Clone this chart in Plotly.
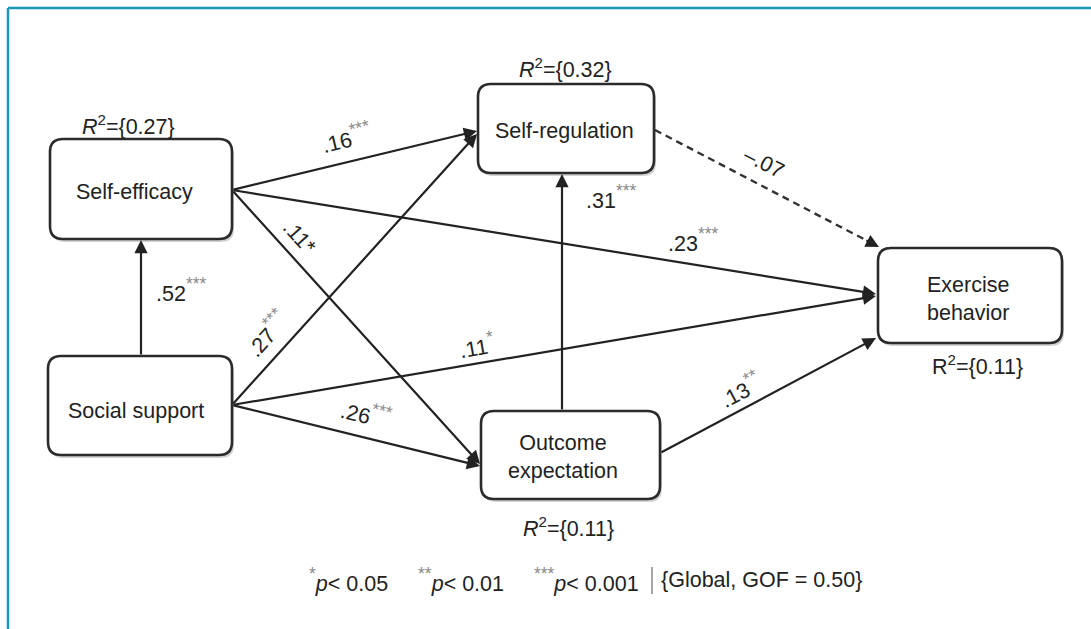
import math
import plotly.graph_objects as go

# ---------------- data ----------------
node_names = ["Self-efficacy", "Self-regulation", "Social support",
              "Outcome<br>expectation", "Exercise<br>behavior"]
node_r2 = [0.27, 0.32, None, 0.11, 0.11]
node_r2_italic = [True, True, False, True, False]

path_from = ["Social support", "Self-efficacy", "Social support", "Self-efficacy",
             "Social support", "Self-efficacy", "Social support", "Outcome",
             "Outcome", "Self-regulation"]
path_to = ["Self-efficacy", "Self-regulation", "Self-regulation", "Outcome",
           "Outcome", "Exercise", "Exercise", "Self-regulation",
           "Exercise", "Exercise"]
path_coef = [0.52, 0.16, 0.27, 0.11, 0.26, 0.23, 0.11, 0.31, 0.13, -0.07]
path_stars = ["***", "***", "***", "*", "***", "***", "*", "***", "**", ""]

legend_levels = ["0.05", "0.01", "0.001"]
legend_stars = ["*", "**", "***"]
global_gof = 0.50

# ---------------- layout geometry (pixels) ----------------
W, H = 1091, 629
boxes = [  # x0, y0, x1, y1
    (50, 139, 232, 239),
    (478, 84, 654, 173),
    (48, 356, 232, 455),
    (481, 411, 660, 499),
    (878, 248, 1062, 343),
]
label_pos = [(134, 192), (564, 131), (136, 411), (563, 457), (968, 299)]
r2_pos = [(128, 125), (565, 68), None, (568, 527), (977, 365)]

# arrows: tail, head
arrow_geom = [
    ((141, 356), (141, 240)),
    ((232, 190), (477, 131)),
    ((232, 405), (477, 134)),
    ((232, 190), (480, 464)),
    ((232, 405), (480, 466)),
    ((232, 190), (876, 294)),
    ((232, 405), (876, 296)),
    ((562, 411), (562, 174)),
    ((660, 453), (876, 338)),
    ((655, 130), (879, 247)),
]
coef_pos = [(346, 137), (266, 333), (299, 237), (366, 413),
            (693, 240), (476, 345), (611, 197), (740, 389), (764, 163)]
coef_pos.insert(0, (181, 290))
coef_angle = [0, -14, -48, 48, 13.5, 0, -10, 0, -28, 27]
low_star = [False, False, False, True, False, False, False, False, False, False]

FONT = "Liberation Sans, Arial, sans-serif"
INK = "#222222"
STAR = "#8a8a8a"
FS = 21.5

fig = go.Figure()
shapes = []
annotations = []


def rrect(x0, y0, x1, y1, r):
    return (f"M {x0+r},{y0} L {x1-r},{y0} Q {x1},{y0} {x1},{y0+r} "
            f"L {x1},{y1-r} Q {x1},{y1} {x1-r},{y1} L {x0+r},{y1} "
            f"Q {x0},{y1} {x0},{y1-r} L {x0},{y0+r} Q {x0},{y0} {x0+r},{y0} Z")


def stars(st):
    return f"<span style='font-size:25px;color:{STAR}'><sup>{st}</sup></span>"


# frame
shapes.append(dict(type="line", xref="x", yref="y", x0=8, y0=8, x1=W, y1=8,
                   line=dict(color="#1a96b4", width=2.5)))
shapes.append(dict(type="line", xref="x", yref="y", x0=8, y0=8, x1=8, y1=H,
                   line=dict(color="#1a96b4", width=2.5)))

# arrows
for i, ((tx, ty), (hx, hy)) in enumerate(arrow_geom):
    if path_coef[i] < 0:
        dx, dy = hx - tx, hy - ty
        L = math.hypot(dx, dy)
        bx, by = hx - 16 * dx / L, hy - 16 * dy / L
        shapes.append(dict(type="line", xref="x", yref="y", x0=tx, y0=ty, x1=bx, y1=by,
                           line=dict(color="#333333", width=2.4, dash="7px,5px")))
        annotations.append(dict(x=hx, y=hy, ax=bx, ay=by, xref="x", yref="y",
                                axref="x", ayref="y", text="", showarrow=True,
                                arrowhead=2, arrowsize=1.2, arrowwidth=2.2,
                                arrowcolor="#222", standoff=0, startstandoff=0))
    else:
        annotations.append(dict(x=hx, y=hy, ax=tx, ay=ty, xref="x", yref="y",
                                axref="x", ayref="y", text="", showarrow=True,
                                arrowhead=2, arrowsize=1.2, arrowwidth=2.2,
                                arrowcolor="#222", standoff=0, startstandoff=0))

# boxes
for (x0, y0, x1, y1) in boxes:
    shapes.append(dict(type="path", xref="x", yref="y",
                       path=rrect(x0 + 2, y0 + 3, x1 + 2, y1 + 3, 13),
                       fillcolor="rgba(0,0,0,0.18)", line=dict(width=0)))
    shapes.append(dict(type="path", xref="x", yref="y",
                       path=rrect(x0, y0, x1, y1, 13),
                       fillcolor="white", line=dict(color="#2b2b2b", width=2.6)))

for name, (x, y) in zip(node_names, label_pos):
    annotations.append(dict(x=x, y=y, xref="x", yref="y", text=name, showarrow=False,
                            font=dict(family=FONT, size=FS, color=INK), align="center"))

for r2, ital, pos in zip(node_r2, node_r2_italic, r2_pos):
    if r2 is None:
        continue
    R = "<i>R</i>" if ital else "R"
    annotations.append(dict(x=pos[0], y=pos[1], xref="x", yref="y",
                            text=f"{R}<sup>2</sup>={{{r2:.2f}}}", showarrow=False,
                            font=dict(family=FONT, size=FS, color=INK)))


def fmt(c):
    s = f"{abs(c):.2f}".lstrip("0")
    return ("\u2013" + s) if c < 0 else s


for c, st, pos, ang, low in zip(path_coef, path_stars, coef_pos, coef_angle, low_star):
    txt = fmt(c)
    if st:
        txt += st if low else stars(st)
    annotations.append(dict(x=pos[0], y=pos[1], xref="x", yref="y", text=txt,
                            showarrow=False, textangle=ang,
                            font=dict(family=FONT, size=FS, color=INK)))

# legend / footnote
parts = []
for st, lv in zip(legend_stars, legend_levels):
    parts.append(f"{stars(st)}<i>p</i>< {lv}")
left_txt = ("\u00a0" * 5).join(parts)
annotations.append(dict(x=641, y=580, xref="x", yref="y", text=left_txt,
                        showarrow=False, xanchor="right",
                        font=dict(family=FONT, size=FS, color=INK)))
annotations.append(dict(x=659, y=580, xref="x", yref="y",
                        text=f"{{Global, GOF = {global_gof:.2f}}}",
                        showarrow=False, xanchor="left",
                        font=dict(family=FONT, size=FS, color=INK)))
shapes.append(dict(type="line", xref="x", yref="y", x0=652, y0=567, x1=652, y1=594,
                   line=dict(color="#777777", width=1.3)))

fig.update_layout(
    width=W, height=H,
    margin=dict(l=0, r=0, t=0, b=0),
    paper_bgcolor="white", plot_bgcolor="white",
    xaxis=dict(range=[0, W], visible=False, fixedrange=True),
    yaxis=dict(range=[H, 0], visible=False, fixedrange=True),
    shapes=shapes, annotations=annotations, showlegend=False,
)

fig.write_html("out.html", config={"displayModeBar": False},
               post_script="document.body.style.margin='0px';")
